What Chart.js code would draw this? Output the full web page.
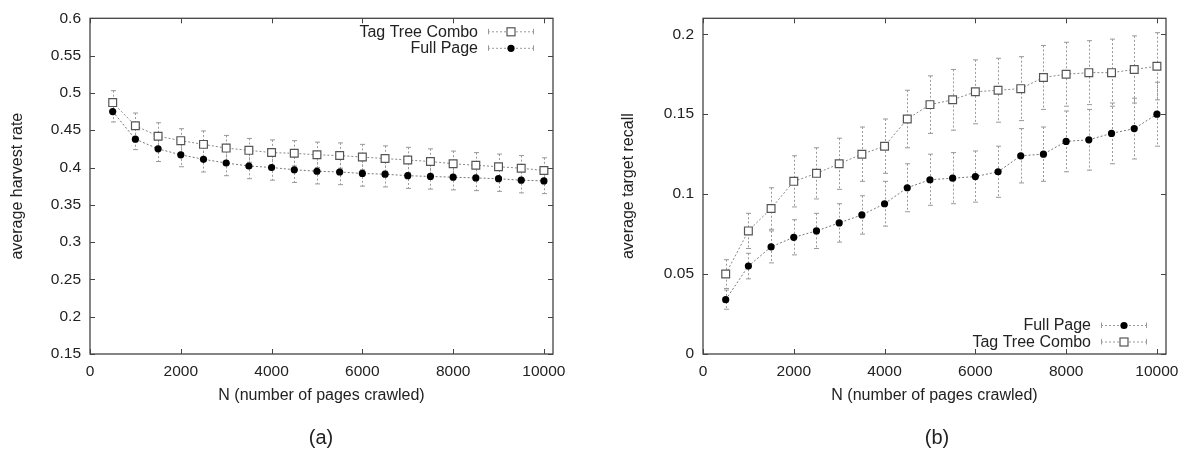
<!DOCTYPE html>
<html>
<head>
<meta charset="utf-8">
<script src="https://cdn.jsdelivr.net/npm/chart.js@4.4.1/dist/chart.umd.min.js"></script>
<style>
    body { margin: 0; background: #fff; width: 1190px; height: 451px; overflow: hidden; font-family: "Liberation Sans", Arial, sans-serif; }
    .wrap { position: absolute; top: 0; }
    .cap { position: absolute; font-size: 20px; color: #222; transform: translate(-50%, -50%); }
</style>
</head>
<body>
<div class="wrap" style="left:0"><canvas id="harvestChart" width="595" height="451"></canvas></div>
<div class="wrap" style="left:595px"><canvas id="recallChart" width="595" height="451"></canvas></div>
<div class="cap" style="left:321px;top:437px">(a)</div>
<div class="cap" style="left:937px;top:437px">(b)</div>
<script>
// values
var pagesCrawled = [500, 1000, 1500, 2000, 2500, 3000, 3500, 4000, 4500, 5000,
                    5500, 6000, 6500, 7000, 7500, 8000, 8500, 9000, 9500, 10000];

var harvestTagTree = [0.487, 0.456, 0.442, 0.436, 0.431, 0.426, 0.423, 0.420, 0.419, 0.417,
                      0.416, 0.414, 0.412, 0.410, 0.408, 0.405, 0.403, 0.401, 0.399, 0.396];
var harvestTagTreeErr = [0.016, 0.017, 0.018, 0.016, 0.018, 0.017, 0.016, 0.017, 0.017, 0.017,
                         0.017, 0.017, 0.017, 0.017, 0.017, 0.017, 0.017, 0.017, 0.017, 0.017];
var harvestFullPage = [0.475, 0.438, 0.425, 0.417, 0.411, 0.406, 0.402, 0.400, 0.397, 0.395,
                       0.394, 0.392, 0.391, 0.389, 0.388, 0.387, 0.386, 0.385, 0.383, 0.382];
var harvestFullPageErr = [0.014, 0.014, 0.017, 0.016, 0.017, 0.017, 0.017, 0.017, 0.017, 0.017,
                          0.017, 0.017, 0.017, 0.017, 0.017, 0.017, 0.017, 0.017, 0.017, 0.017];

var recallTagTree = [0.050, 0.077, 0.091, 0.108, 0.113, 0.119, 0.125, 0.130, 0.147, 0.156,
                     0.159, 0.164, 0.165, 0.166, 0.173, 0.175, 0.176, 0.176, 0.178, 0.180];
var recallTagTreeErr = [0.009, 0.011, 0.013, 0.016, 0.016, 0.016, 0.017, 0.017, 0.018, 0.018,
                        0.019, 0.020, 0.020, 0.020, 0.020, 0.020, 0.020, 0.021, 0.021, 0.021];
var recallFullPage = [0.034, 0.055, 0.067, 0.073, 0.077, 0.082, 0.087, 0.094, 0.104, 0.109,
                      0.110, 0.111, 0.114, 0.124, 0.125, 0.133, 0.134, 0.138, 0.141, 0.150];
var recallFullPageErr = [0.006, 0.008, 0.010, 0.011, 0.011, 0.012, 0.012, 0.014, 0.015, 0.016,
                         0.016, 0.016, 0.016, 0.017, 0.017, 0.019, 0.019, 0.019, 0.019, 0.020];

var xTickValues = [0, 2000, 4000, 6000, 8000, 10000];
var harvestTickValues = [0.15, 0.2, 0.25, 0.3, 0.35, 0.4, 0.45, 0.5, 0.55, 0.6];
var recallTickValues = [0, 0.05, 0.1, 0.15, 0.2];

var textColor = '#222';
var fontFamily = '"Liberation Sans", Arial, sans-serif';
Chart.defaults.font.family = fontFamily;
Chart.defaults.color = textColor;

function points(values) {
    return pagesCrawled.map(function (n, i) { return { x: n, y: values[i] }; });
}

function tagTreeSet(values, errors) {
    return {
        label: 'Tag Tree Combo',
        data: points(values),
        errors: errors,
        marker: 'square',
        borderColor: '#888',
        borderWidth: 1,
        borderDash: [2, 2],
        pointStyle: 'rect',
        pointRadius: 5.5,
        pointBackgroundColor: '#fff',
        pointBorderColor: '#555',
        pointBorderWidth: 1.2,
        tension: 0,
        fill: false
    };
}

function fullPageSet(values, errors) {
    return {
        label: 'Full Page',
        data: points(values),
        errors: errors,
        marker: 'circle',
        borderColor: '#777',
        borderWidth: 1,
        borderDash: [2, 2],
        pointStyle: 'circle',
        pointRadius: 3.6,
        pointBackgroundColor: '#000',
        pointBorderColor: '#000',
        pointBorderWidth: 0,
        tension: 0,
        fill: false
    };
}

// gnuplot-like frame with inward ticks on all four sides
var framePlugin = {
    id: 'frame',
    beforeDatasetsDraw: function (chart) {
        var ctx = chart.ctx, a = chart.chartArea;
        var xs = chart.scales.x, ys = chart.scales.y;
        ctx.save();
        ctx.strokeStyle = '#444';
        ctx.lineWidth = 1.3;
        ctx.strokeRect(a.left, a.top, a.right - a.left, a.bottom - a.top);
        ctx.lineWidth = 1;
        ctx.beginPath();
        xs.ticks.forEach(function (t) {
            var px = Math.round(xs.getPixelForValue(t.value)) + 0.5;
            ctx.moveTo(px, a.bottom); ctx.lineTo(px, a.bottom - 5);
            ctx.moveTo(px, a.top); ctx.lineTo(px, a.top + 5);
        });
        ys.ticks.forEach(function (t) {
            var py = Math.round(ys.getPixelForValue(t.value)) + 0.5;
            ctx.moveTo(a.left, py); ctx.lineTo(a.left + 5, py);
            ctx.moveTo(a.right, py); ctx.lineTo(a.right - 5, py);
        });
        ctx.stroke();
        ctx.restore();
    }
};

function drawErrorBar(ctx, x, yTop, yBot) {
    ctx.setLineDash([2, 2]);
    ctx.beginPath();
    ctx.moveTo(x, yTop); ctx.lineTo(x, yBot);
    ctx.stroke();
    ctx.setLineDash([]);
    ctx.beginPath();
    ctx.moveTo(x - 2.5, yTop); ctx.lineTo(x + 2.5, yTop);
    ctx.moveTo(x - 2.5, yBot); ctx.lineTo(x + 2.5, yBot);
    ctx.stroke();
}

var errorBarPlugin = {
    id: 'errorBars',
    beforeDatasetsDraw: function (chart) {
        var ctx = chart.ctx, xs = chart.scales.x, ys = chart.scales.y;
        ctx.save();
        ctx.strokeStyle = '#999';
        ctx.lineWidth = 1;
        chart.data.datasets.forEach(function (ds) {
            ds.data.forEach(function (pt, i) {
                var px = Math.round(xs.getPixelForValue(pt.x)) + 0.5;
                drawErrorBar(ctx, px, ys.getPixelForValue(pt.y + ds.errors[i]), ys.getPixelForValue(pt.y - ds.errors[i]));
            });
        });
        ctx.restore();
    }
};

var keyPlugin = {
    id: 'key',
    afterDraw: function (chart, args, opts) {
        var ctx = chart.ctx, a = chart.chartArea;
        var textRight = a.right - 75;
        var firstY = opts.position === 'top' ? a.top + 13 : a.bottom - 29;
        ctx.save();
        ctx.font = '16px ' + fontFamily;
        ctx.fillStyle = textColor;
        ctx.textAlign = 'right';
        ctx.textBaseline = 'middle';
        opts.order.forEach(function (idx, row) {
            var ds = chart.data.datasets[idx];
            var y = firstY + row * 16.5;
            ctx.fillText(ds.label, textRight, y + 1);
            var x1 = textRight + 10, x2 = textRight + 56, xm = (x1 + x2) / 2;
            ctx.strokeStyle = '#999';
            ctx.lineWidth = 1;
            ctx.setLineDash([2, 2]);
            ctx.beginPath();
            ctx.moveTo(x1, y + 0.5); ctx.lineTo(x2, y + 0.5);
            ctx.stroke();
            ctx.setLineDash([]);
            ctx.beginPath();
            ctx.moveTo(x1 + 0.5, y - 2.5); ctx.lineTo(x1 + 0.5, y + 3);
            ctx.moveTo(x2 - 0.5, y - 2.5); ctx.lineTo(x2 - 0.5, y + 3);
            ctx.stroke();
            if (ds.marker === 'square') {
                ctx.fillStyle = '#fff';
                ctx.fillRect(xm - 4, y - 3.5, 8, 8);
                ctx.strokeStyle = '#555';
                ctx.lineWidth = 1.2;
                ctx.strokeRect(xm - 4, y - 3.5, 8, 8);
            } else {
                ctx.fillStyle = '#000';
                ctx.beginPath();
                ctx.arc(xm, y + 0.5, 3.6, 0, Math.PI * 2);
                ctx.fill();
            }
            ctx.fillStyle = textColor;
        });
        ctx.restore();
    }
};

function makeChart(canvasId, datasets, yTicks, yMin, yMax, yTitle, yAxisWidth, yTitlePad, rightPad, keyOpts) {
    var ctx = document.getElementById(canvasId).getContext('2d');
    return new Chart(ctx, {
        type: 'line',
        data: { datasets: datasets },
        plugins: [framePlugin, errorBarPlugin, keyPlugin],
        options: {
            responsive: false,
            animation: false,
            layout: { padding: { top: 14, right: rightPad, left: 0, bottom: 0 } },
            plugins: {
                legend: { display: false },
                tooltip: { enabled: false },
                key: keyOpts
            },
            scales: {
                x: {
                    type: 'linear',
                    min: 0,
                    max: 10200,
                    afterBuildTicks: function (scale) {
                        scale.ticks = xTickValues.map(function (v) { return { value: v }; });
                    },
                    afterFit: function (scale) { scale.height = 97; },
                    grid: { display: false, drawTicks: false },
                    border: { display: false },
                    ticks: {
                        padding: 8,
                        maxRotation: 0,
                        font: { size: 15.5 },
                        color: textColor,
                        callback: function (v) { return String(v); }
                    },
                    title: {
                        display: true,
                        text: 'N (number of pages crawled)',
                        font: { size: 16 },
                        color: textColor,
                        padding: { top: 0, bottom: 46 }
                    }
                },
                y: {
                    type: 'linear',
                    min: yMin,
                    max: yMax,
                    afterBuildTicks: function (scale) {
                        scale.ticks = yTicks.map(function (v) { return { value: v }; });
                    },
                    afterFit: function (scale) { scale.width = yAxisWidth; },
                    grid: { display: false, drawTicks: false },
                    border: { display: false },
                    ticks: {
                        padding: 9,
                        font: { size: 15.5 },
                        color: textColor,
                        callback: function (v) { return String(Math.round(v * 100) / 100); }
                    },
                    title: {
                        display: true,
                        text: yTitle,
                        font: { size: 16 },
                        color: textColor,
                        padding: { top: yTitlePad, bottom: 0 }
                    }
                }
            }
        }
    });
}

document.addEventListener('DOMContentLoaded', function () {
    makeChart('harvestChart',
        [tagTreeSet(harvestTagTree, harvestTagTreeErr), fullPageSet(harvestFullPage, harvestFullPageErr)],
        harvestTickValues, 0.15, 0.6, 'average harvest rate', 90, 8, 42,
        { position: 'top', order: [0, 1] });

    makeChart('recallChart',
        [tagTreeSet(recallTagTree, recallTagTreeErr), fullPageSet(recallFullPage, recallFullPageErr)],
        recallTickValues, 0, 0.21, 'average target recall', 108, 24, 24,
        { position: 'bottom', order: [1, 0] });
});
</script>
</body>
</html>
